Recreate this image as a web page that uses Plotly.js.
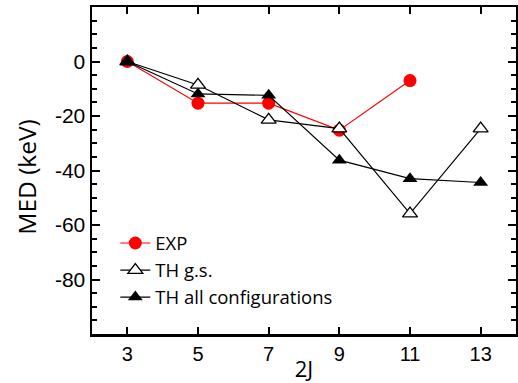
<!DOCTYPE html>
<html><head><meta charset="utf-8">
<script src="https://cdn.plot.ly/plotly-3.0.1.min.js"></script>
<style>html,body{margin:0;padding:0;background:#fff}</style>
</head><body>
<div id="chart" style="width:518px;height:383px"></div>
<script>
const twoJ = [3, 5, 7, 9, 11, 13];
const expX = [3, 5, 7, 9, 11];
const expMED = [0, -15.3, -15.3, -25.2, -7.0];
const thGsMED = [0, -8.6, -21.4, -24.6, -55.8, -24.6];
const thAllMED = [0, -11.9, -12.4, -36.2, -43.0, -44.4];
const xTickVals = [3, 5, 7, 9, 11, 13];
const yTickVals = [-80, -60, -40, -20, 0];

const traces = [
  {x: expX, y: expMED, name: 'EXP', type: 'scatter', mode: 'lines+markers',
   line: {color: '#ff0000', width: 1.2},
   marker: {symbol: 'circle', size: 13, color: '#ff0000'}},
  {x: twoJ, y: thGsMED, name: 'TH g.s.', type: 'scatter', mode: 'lines+markers',
   line: {color: '#000', width: 1.2},
   marker: {symbol: 'triangle-up', size: 13, color: '#fff', line: {color: '#000', width: 1.3}}},
  {x: twoJ, y: thAllMED, name: 'TH all configurations', type: 'scatter', mode: 'lines+markers',
   line: {color: '#000', width: 1.2},
   marker: {symbol: 'triangle-up', size: 13, color: '#000'}}
];

const layout = {
  width: 518, height: 383,
  margin: {l: 92, r: 2, t: 7, b: 49},
  paper_bgcolor: '#fff', plot_bgcolor: '#fff',
  font: {family: 'Liberation Sans, Arial, sans-serif', color: '#000'},
  showlegend: true,
  legend: {x: 0.055, y: 0.335, xanchor: 'left', yanchor: 'top', bgcolor: 'rgba(0,0,0,0)',
           font: {family: 'Open Sans, sans-serif', size: 18.5, color: '#000'}},
  xaxis: {range: [2, 14], tickvals: xTickVals, ticktext: xTickVals.map(String),
          ticks: 'inside', ticklen: 7, tickwidth: 2, tickcolor: '#000',
          showline: true, linewidth: 2.5, linecolor: '#000', mirror: 'ticks',
          showgrid: false, zeroline: false,
          tickfont: {size: 20, family: 'Liberation Sans, Arial, sans-serif'},
          title: {text: '2J', standoff: 0, font: {size: 22, family: 'Open Sans, sans-serif'}}},
  yaxis: {range: [-100, 20], tickvals: yTickVals, ticktext: yTickVals.map(String),
          ticks: 'inside', ticklen: 8, tickwidth: 2, tickcolor: '#000',
          minor: {dtick: 5, tick0: 0, ticks: 'inside', ticklen: 5, tickwidth: 2, tickcolor: '#000'},
          showline: true, linewidth: 2.5, linecolor: '#000', mirror: 'ticks',
          showgrid: false, zeroline: false,
          tickfont: {size: 21, family: 'Liberation Sans, Arial, sans-serif'}},
  annotations: [{text: 'MED (keV)', xref: 'paper', yref: 'paper', x: -0.155, y: 0.479,
                 xanchor: 'center', yanchor: 'middle', textangle: -90, showarrow: false,
                 font: {size: 24.5, family: 'Open Sans, sans-serif', color: '#000'}}]
};

Plotly.newPlot('chart', traces, layout, {staticPlot: true, displayModeBar: false});
</script>
</body></html>
